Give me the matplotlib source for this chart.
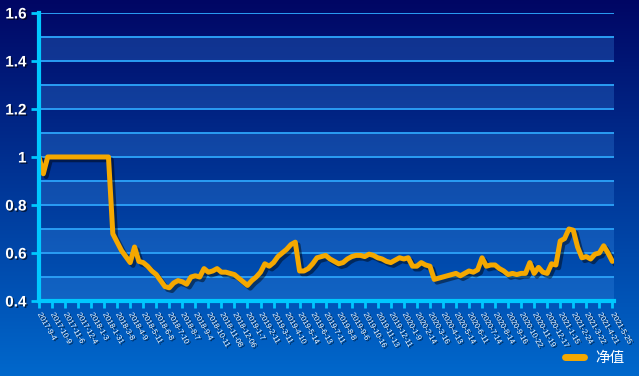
import numpy as np
import matplotlib
matplotlib.use("Agg")
import matplotlib.pyplot as plt
import matplotlib.patheffects as pe
from matplotlib.ticker import FuncFormatter, MultipleLocator

plt.rcParams['font.family'] = ['Liberation Sans', 'Noto Sans CJK SC', 'DejaVu Sans']

# tick labels (one every 3 samples)
dates = ["2017-9-4", "2017-10-9", "2017-11-6", "2017-12-4", "2018-1-3", "2018-1-31",
         "2018-3-8", "2018-4-9", "2018-5-11", "2018-6-8", "2018-7-10", "2018-8-7",
         "2018-9-4", "2018-10-11", "2018-11-08", "2018-12-06", "2019-1-7", "2019-2-11",
         "2019-3-11", "2019-4-10", "2019-5-14", "2019-6-13", "2019-7-11", "2019-8-8",
         "2019-9-6", "2019-10-16", "2019-11-13", "2019-12-11", "2020-1-9", "2020-2-14",
         "2020-3-16", "2020-4-13", "2020-5-14", "2020-6-11", "2020-7-14", "2020-8-14",
         "2020-9-16", "2020-10-22", "2020-11-19", "2020-12-17", "2021-1-15", "2021-2-24",
         "2021-3-22", "2021-4-21", "2021-5-25"]

# net value
nav = [1.0, 0.93, 1.0, 1.0, 1.0, 1.0, 1.0, 1.0, 1.0, 1.0,
       1.0, 1.0, 1.0, 1.0, 1.0, 1.0, 1.0, 0.68, 0.645, 0.61,
       0.585, 0.56, 0.625, 0.565, 0.56, 0.545, 0.525, 0.51, 0.485, 0.46,
       0.455, 0.475, 0.485, 0.48, 0.47, 0.50, 0.505, 0.50, 0.535, 0.52,
       0.525, 0.535, 0.52, 0.52, 0.515, 0.51, 0.495, 0.48, 0.465, 0.485,
       0.50, 0.52, 0.555, 0.545, 0.56, 0.585, 0.60, 0.615, 0.635, 0.645,
       0.525, 0.525, 0.535, 0.555, 0.58, 0.585, 0.59, 0.575, 0.565, 0.555,
       0.56, 0.575, 0.585, 0.59, 0.59, 0.585, 0.595, 0.59, 0.58, 0.575,
       0.565, 0.56, 0.57, 0.58, 0.575, 0.58, 0.545, 0.545, 0.56, 0.55,
       0.545, 0.49, 0.495, 0.50, 0.505, 0.51, 0.515, 0.505, 0.515, 0.525,
       0.52, 0.53, 0.58, 0.545, 0.55, 0.55, 0.535, 0.525, 0.51, 0.515,
       0.51, 0.515, 0.515, 0.56, 0.515, 0.54, 0.52, 0.515, 0.555, 0.55,
       0.65, 0.66, 0.70, 0.695, 0.625, 0.58, 0.585, 0.575, 0.595, 0.60,
       0.63, 0.60, 0.565]

step = 3
orange = '#f5a800'
cyan = '#00c8ff'
grid_c = '#2a9df4'

fig = plt.figure(figsize=(6.39, 3.76), dpi=100)

# background gradient
bg = fig.add_axes([0, 0, 1, 1], zorder=-10)
grad = np.linspace(0, 1, 256).reshape(-1, 1)
top = np.array([0, 6, 100]) / 255
bot = np.array([0, 104, 204]) / 255
img = top + (bot - top) * grad[:, :, None]
bg.imshow(img, aspect='auto', extent=[0, 1, 0, 1], origin='upper')
bg.axis('off')

ax = fig.add_axes([0.061, 0.1995, 0.900, 0.766])
ax.patch.set_alpha(0)

x = np.arange(len(nav))
ax.set_xlim(0, (len(dates) - 1) * step + 0.4)
ax.set_ylim(0.4, 1.6)

# lighter bands
for lo in np.arange(0.4, 1.6, 0.2):
    ax.axhspan(lo, lo + 0.1, color='#3a8ee8', alpha=0.28, lw=0, zorder=0)

ax.yaxis.set_major_locator(MultipleLocator(0.2))
ax.yaxis.set_minor_locator(MultipleLocator(0.1))
ax.grid(True, axis='y', which='both', color=grid_c, lw=1.4, zorder=1)
ax.yaxis.set_major_formatter(FuncFormatter(lambda v, p: '%g' % round(v, 1)))

shadow_txt = [pe.withSimplePatchShadow(offset=(1, -1), shadow_rgbFace='black', alpha=0.6)]

ax.plot(x, nav, color=orange, lw=3.6, solid_joinstyle='round', solid_capstyle='round', zorder=5,
        path_effects=[pe.SimpleLineShadow(offset=(2, -2), shadow_color='black', alpha=0.45),
                      pe.Normal()])

ax.set_xticks(np.arange(len(dates)) * step)
ax.set_xticklabels(dates, rotation=-60, rotation_mode='anchor', ha='left', va='center',
                   fontsize=5.5, color='white')
for t in ax.get_xticklabels():
    t.set_path_effects(shadow_txt)
for t in ax.get_yticklabels():
    t.set_fontsize(11)
    t.set_fontweight('bold')
    t.set_color('white')
    t.set_path_effects(shadow_txt)

ax.tick_params(axis='x', colors=cyan, length=5, width=2, pad=4, labelcolor='white')
ax.tick_params(axis='y', which='major', colors=cyan, length=6, width=2, pad=3, labelcolor='white')
ax.tick_params(axis='y', which='minor', length=0)

for s in ['top', 'right']:
    ax.spines[s].set_visible(False)
for s in ['left', 'bottom']:
    ax.spines[s].set_color(cyan)
    ax.spines[s].set_linewidth(3)
    ax.spines[s].set_zorder(6)

leg = fig.legend([plt.Line2D([], [], color=orange, lw=5, solid_capstyle='round')], ['净值'],
                 loc='lower right', bbox_to_anchor=(0.998, -0.005), frameon=False,
                 handlelength=1.3, fontsize=10.5)
for t in leg.get_texts():
    t.set_color('white')

fig.savefig('out.png', dpi=100)
